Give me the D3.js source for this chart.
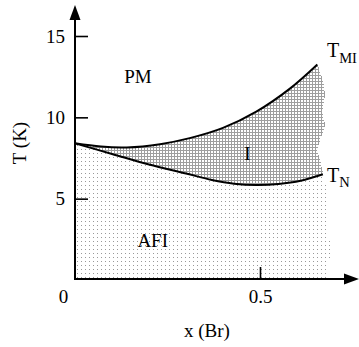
<!DOCTYPE html>
<html>
<head>
<meta charset="utf-8">
<script src="https://cdn.jsdelivr.net/npm/d3@7"></script>
<style>
  html, body { margin: 0; padding: 0; background: #fff; }
  svg { display: block; }
  text { font-family: "Liberation Serif", "Times New Roman", Times, serif; fill: #000; }
</style>
</head>
<body>
<svg id="chart" width="359" height="347"></svg>
<script>
// ---- data ----
const xTickValues = [0.5];
const xTickLabels = ["0.5"];
const yTickValues = [5, 10, 15];
const yTickLabels = ["5", "10", "15"];

// T_MI curve (x, T)
const tmiX = [0, 0.07, 0.14, 0.23, 0.31, 0.40, 0.49, 0.58, 0.655];
const tmiT = [8.4, 8.2, 8.15, 8.35, 8.72, 9.35, 10.35, 11.75, 13.25];

// T_N curve (x, T)
const tnX = [0, 0.1, 0.2, 0.3, 0.37, 0.43, 0.49, 0.55, 0.61, 0.67];
const tnT = [8.4, 7.75, 7.1, 6.55, 6.15, 5.92, 5.84, 5.9, 6.1, 6.5];

// ragged right edge of the insulating (I) region, top to bottom
const iEdgeX = [0.657, 0.670, 0.676, 0.668, 0.676, 0.662, 0.654, 0.662, 0.670];
const iEdgeT = [13.2, 12.3, 11.4, 10.4, 9.5, 8.6, 8.0, 7.4, 6.6];

// right edge of the AFI region, top to bottom
const afiEdgeX = [0.67, 0.688, 0.682, 0.69, 0.684];
const afiEdgeT = [6.5, 5.0, 3.5, 2.0, 0];

const regionLabels = ["PM", "I", "AFI"];
const regionX = [0.17, 0.466, 0.21];
const regionT = [12.1, 7.4, 2.05];

// ---- drawing ----
const svg = d3.select("#chart");
const x = d3.scaleLinear().domain([0, 0.5]).range([75, 260]);
const y = d3.scaleLinear().domain([0, 15]).range([280, 36]);

const defs = svg.append("defs");
const pI = defs.append("pattern").attr("id", "patI")
  .attr("patternUnits", "userSpaceOnUse").attr("width", 3).attr("height", 3);
pI.append("rect").attr("width", 3).attr("height", 3).attr("fill", "#9e9e9e");
pI.append("rect").attr("x", 1).attr("y", 1).attr("width", 2).attr("height", 2).attr("fill", "#fff");

const pA = defs.append("pattern").attr("id", "patA")
  .attr("patternUnits", "userSpaceOnUse").attr("width", 4).attr("height", 4);
pA.append("rect").attr("width", 4).attr("height", 4).attr("fill", "#fff");
pA.append("rect").attr("x", 1).attr("y", 1).attr("width", 1).attr("height", 1).attr("fill", "#999");

const tmi = tmiX.map((v, i) => [v, tmiT[i]]);
const tn = tnX.map((v, i) => [v, tnT[i]]);
const iEdge = iEdgeX.map((v, i) => [v, iEdgeT[i]]);
const afiEdge = afiEdgeX.map((v, i) => [v, afiEdgeT[i]]);

const curveGen = d3.line().x(d => x(d[0])).y(d => y(d[1])).curve(d3.curveCatmullRom.alpha(0.5));
const linGen = d3.line().x(d => x(d[0])).y(d => y(d[1]));

// AFI region: below T_N down to axis
const afiPath = curveGen(tn) + linGen(afiEdge).replace("M", "L") +
  "L" + x(0) + "," + y(0) + "Z";
svg.append("path").attr("d", afiPath).attr("fill", "url(#patA)").attr("shape-rendering", "crispEdges");

// I region: between T_MI and T_N
const tnRevPath = curveGen(tn.slice().reverse());
svg.append("path")
  .attr("d", curveGen(tmi) + linGen(iEdge).replace("M", "L") + tnRevPath.replace("M", "L") + "Z")
  .attr("fill", "url(#patI)").attr("shape-rendering", "crispEdges");

// curves
svg.append("path").attr("d", curveGen(tmi)).attr("fill", "none").attr("stroke", "#000").attr("stroke-width", 2);
svg.append("path").attr("d", curveGen(tn)).attr("fill", "none").attr("stroke", "#000").attr("stroke-width", 2);

// axes
const yAxis = d3.axisLeft(y).tickValues(yTickValues)
  .tickFormat((d, i) => yTickLabels[i]).tickSize(-13).tickPadding(10);
const gy = svg.append("g").attr("transform", `translate(${x(0)},0)`).call(yAxis);
gy.select(".domain").remove();
gy.selectAll("line").attr("stroke", "#000").attr("stroke-width", 1.6);
gy.selectAll("text").attr("font-size", 19);

const xAxis = d3.axisBottom(x).tickValues(xTickValues)
  .tickFormat((d, i) => xTickLabels[i]).tickSize(-13).tickPadding(10);
const gx = svg.append("g").attr("transform", `translate(0,${y(0)})`).call(xAxis);
gx.select(".domain").remove();
gx.selectAll("line").attr("stroke", "#000").attr("stroke-width", 1.6);
gx.selectAll("text").attr("font-size", 19);

// axis lines with arrows
svg.append("line").attr("x1", x(0)).attr("y1", y(0)).attr("x2", x(0)).attr("y2", 18)
  .attr("stroke", "#000").attr("stroke-width", 2);
svg.append("path").attr("d", `M${x(0)},5 L${x(0) - 5.5},20 L${x(0) + 5.5},20 Z`).attr("fill", "#000");
svg.append("line").attr("x1", x(0) - 1).attr("y1", y(0) - 1).attr("x2", 346).attr("y2", y(0) - 1)
  .attr("stroke", "#000").attr("stroke-width", 2);
svg.append("path").attr("d", `M359,${y(0) - 1} L344,${y(0) - 6.5} L344,${y(0) + 4.5} Z`).attr("fill", "#000");

// origin label
svg.append("text").attr("x", x(0) - 11.5).attr("y", 303).attr("text-anchor", "middle")
  .attr("font-size", 19).text("0");

// axis titles
svg.append("text").attr("x", 207).attr("y", 337).attr("text-anchor", "middle")
  .attr("font-size", 19).text("x (Br)");
svg.append("text").attr("transform", "translate(26,143) rotate(-90)").attr("text-anchor", "middle")
  .attr("font-size", 19).text("T (K)");

// region labels
svg.selectAll("text.region").data(regionLabels).enter().append("text")
  .attr("class", "region")
  .attr("x", (d, i) => x(regionX[i])).attr("y", (d, i) => y(regionT[i]))
  .attr("text-anchor", "middle").attr("font-size", 19).text(d => d);

// curve labels
const tmiLab = svg.append("text").attr("x", 327).attr("y", 57).attr("font-size", 20);
tmiLab.append("tspan").text("T");
tmiLab.append("tspan").attr("font-size", 14.5).attr("dy", 6).text("MI");
const tnLab = svg.append("text").attr("x", 327).attr("y", 182).attr("font-size", 20);
tnLab.append("tspan").text("T");
tnLab.append("tspan").attr("font-size", 14.5).attr("dy", 5).text("N");
</script>
</body>
</html>
